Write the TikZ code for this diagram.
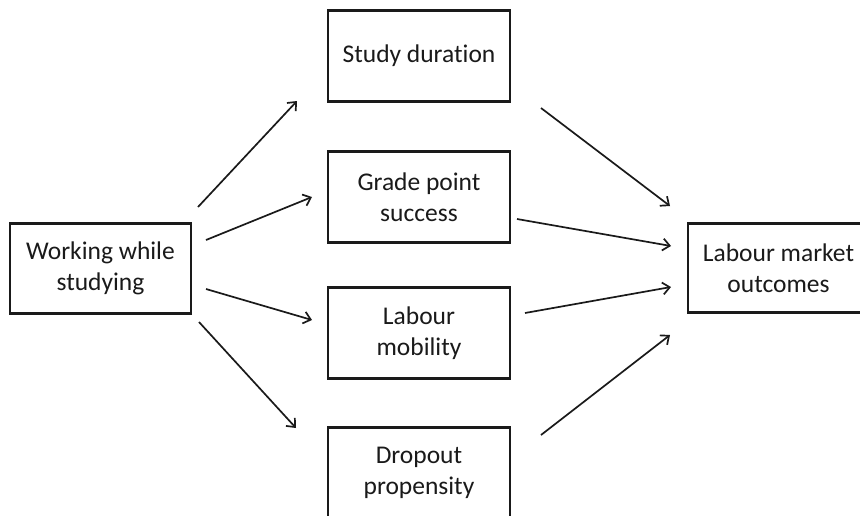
\documentclass[tikz,border=0pt]{standalone}
\usepackage{fontspec}
\setmainfont{Carlito}[Ligatures={NoCommon}]
\usetikzlibrary{arrows.meta}
\definecolor{ink}{HTML}{1A1A1A}
\begin{document}
\begin{tikzpicture}[x=1pt,y=-1pt,
  box/.style={draw=ink,line width=2.3pt,minimum width=182pt,minimum height=91pt,inner sep=0pt,align=center,font=\fontsize{25.5}{31}\selectfont,text=ink},
  conn/.style={draw=ink,line width=1.7pt,-{Straight Barb[length=7pt,width=12pt,line width=1.7pt]}}]
\useasboundingbox (0,0) rectangle (860,515);
\clip (0,0) rectangle (860,515);
\fill[white] (0,0) rectangle (860,515);
\node[box,minimum width=181pt,minimum height=90pt] (work) at (100.5,268.5) {Working while\\studying};
\node[box] (dur) at (419,56) {Study duration};
\node[box] (gpa) at (419,197) {Grade point\\success};
\node[box] (mob) at (419,333) {Labour\\mobility};
\node[box] (drop) at (419,473) {Dropout\\propensity};
\node[box,minimum width=181pt,minimum height=89pt] (out) at (778.5,268) {Labour market\\outcomes};
% connector end points
\coordinate (a1s) at (198,207); \coordinate (a1e) at (297,101);
\coordinate (a2s) at (206,240); \coordinate (a2e) at (312,197);
\coordinate (a3s) at (206,289); \coordinate (a3e) at (312,320);
\coordinate (a4s) at (199,322); \coordinate (a4e) at (296,428);
\coordinate (b1s) at (541,108); \coordinate (b1e) at (670,206);
\coordinate (b2s) at (517,219); \coordinate (b2e) at (671,246);
\coordinate (b3s) at (525,313); \coordinate (b3e) at (671,287);
\coordinate (b4s) at (541,435); \coordinate (b4e) at (670,335);
\draw[conn] (a1s) -- (a1e);
\draw[conn] (a2s) -- (a2e);
\draw[conn] (a3s) -- (a3e);
\draw[conn] (a4s) -- (a4e);
\draw[conn] (b1s) -- (b1e);
\draw[conn] (b2s) -- (b2e);
\draw[conn] (b3s) -- (b3e);
\draw[conn] (b4s) -- (b4e);
\end{tikzpicture}
\end{document}
